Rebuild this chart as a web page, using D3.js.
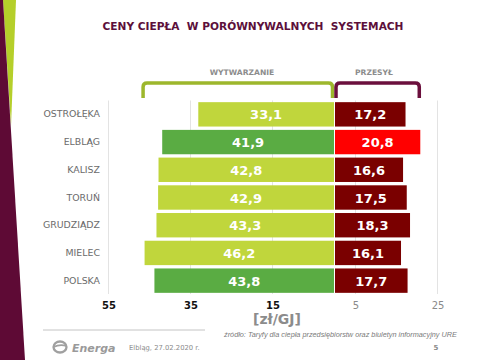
<!DOCTYPE html>
<html><head><meta charset="utf-8">
<script src="https://cdn.jsdelivr.net/npm/d3@7"></script>
<style>
html,body{margin:0;padding:0;background:#fff;}
svg{display:block;font-family:"DejaVu Sans",Verdana,sans-serif;}
</style></head>
<body>
<script>
const categories = ["OSTROŁĘKA","ELBLĄG","KALISZ","TORUŃ","GRUDZIĄDZ","MIELEC","POLSKA"];
const wytwarzanie = [33.1,41.9,42.8,42.9,43.3,46.2,43.8];
const przesyl = [17.2,20.8,16.6,17.5,18.3,16.1,17.7];
const highlight = ["ELBLĄG","POLSKA"];
const leftTicks = [55,35,15];
const rightTicks = [5,25];
const fmt = v => d3.format(".1f")(v).replace(".", ",");

const W = 480, H = 360;
const svg = d3.select("body").append("svg").attr("width", W).attr("height", H);

// left decoration
svg.append("polygon").attr("points","3,0 16,0 11,126").attr("fill","#b5cf2a");
svg.append("polygon").attr("points","0,0 3,0 25,360 0,360").attr("fill","#5e0a35");

// title
svg.append("text").attr("x",253).attr("y",30).attr("text-anchor","middle")
  .attr("font-size",10.6).attr("font-weight","bold").attr("fill","#5c0f3b")
  .attr("xml:space","preserve")
  .text("CENY CIEPŁA  W PORÓWNYWALNYCH  SYSTEMACH");

const xL = d3.scaleLinear().domain([0,55]).range([334,108.5]);
const xR = d3.scaleLinear().domain([0,25]).range([335,437.5]);
const y = d3.scaleBand().domain(categories).range([100.5,294.5]).paddingInner(0.12).paddingOuter(0.06);

// brackets
function bracket(x0,x1,color){
  const t=83, b=98, r=4;
  svg.append("path").attr("d",`M${x0},${b} V${t+r} Q${x0},${t} ${x0+r},${t} H${x1-r} Q${x1},${t} ${x1},${t+r} V${b}`)
    .attr("fill","none").attr("stroke",color).attr("stroke-width",3.5);
}
bracket(xL(46.2)-1.5, xL(0)-1.5, "#9db72c");
bracket(xR(0)+1, xR(20.8)-1, "#6b0f3d");
svg.append("text").attr("x",242).attr("y",75).attr("text-anchor","middle")
  .attr("font-size",7.6).attr("font-weight","bold").attr("fill","#8c8c8c").text("WYTWARZANIE");
svg.append("text").attr("x",374).attr("y",75).attr("text-anchor","middle")
  .attr("font-size",7.6).attr("font-weight","bold").attr("fill","#8c8c8c").text("PRZESYŁ");

// gridlines
const grid = svg.append("g");
leftTicks.forEach(t => grid.append("line").attr("x1",xL(t)).attr("x2",xL(t)).attr("y1",100.5).attr("y2",294).attr("stroke","#e3e3e3"));
rightTicks.forEach(t => grid.append("line").attr("x1",xR(t)).attr("x2",xR(t)).attr("y1",100.5).attr("y2",294).attr("stroke","#e3e3e3"));

// bars
const rows = categories.map((c,i)=>({c, w:wytwarzanie[i], p:przesyl[i]}));
svg.append("g").selectAll("rect").data(rows).join("rect")
  .attr("x", d=>xL(d.w)).attr("width", d=>xL(0)-xL(d.w))
  .attr("y", d=>y(d.c)).attr("height", y.bandwidth())
  .attr("fill", d=>highlight.includes(d.c) ? "#5aac43" : "#c0d63c");
svg.append("g").selectAll("rect").data(rows).join("rect")
  .attr("x", xR(0)).attr("width", d=>xR(d.p)-xR(0))
  .attr("y", d=>y(d.c)).attr("height", y.bandwidth())
  .attr("fill", d=>d.c==="ELBLĄG" ? "#ff0000" : "#7a0000");

// value labels
svg.append("g").selectAll("text").data(rows).join("text")
  .attr("x", d=>(xL(d.w)+xL(0))/2).attr("y", d=>y(d.c)+y.bandwidth()/2+5)
  .attr("text-anchor","middle").attr("font-size",13).attr("font-weight","bold").attr("fill","#fff")
  .text(d=>fmt(d.w));
svg.append("g").selectAll("text").data(rows).join("text")
  .attr("x", d=>(xR(d.p)+xR(0))/2).attr("y", d=>y(d.c)+y.bandwidth()/2+5)
  .attr("text-anchor","middle").attr("font-size",13).attr("font-weight","bold").attr("fill","#fff")
  .text(d=>fmt(d.p));

// category axis
const ay = svg.append("g").attr("transform","translate(101,0)")
  .call(d3.axisLeft(y).tickSize(0).tickPadding(1));
ay.select(".domain").remove();
ay.selectAll("text").attr("font-size",9.4).attr("fill","#6b6b6b").attr("font-family","DejaVu Sans");

// value axes
const axL = svg.append("g").attr("transform","translate(0,294)")
  .call(d3.axisBottom(xL).tickValues(leftTicks).tickSize(0).tickPadding(8));
axL.select(".domain").remove();
axL.selectAll("text").attr("font-size",10).attr("font-weight","bold").attr("fill","#111").attr("font-family","DejaVu Sans");
const axR = svg.append("g").attr("transform","translate(0,294)")
  .call(d3.axisBottom(xR).tickValues(rightTicks).tickSize(0).tickPadding(8));
axR.select(".domain").remove();
axR.selectAll("text").attr("font-size",10).attr("fill","#8a8a8a").attr("font-family","DejaVu Sans");

svg.append("text").attr("x",277).attr("y",324).attr("text-anchor","middle")
  .attr("font-size",14).attr("font-weight","bold").attr("fill","#8c8c8c").text("[zł/GJ]");

// footer
svg.append("line").attr("x1",43).attr("x2",205).attr("y1",330).attr("y2",330).attr("stroke","#c4c4c4");
svg.append("text").attr("x",224).attr("y",337).attr("font-size",7.3).attr("font-style","italic")
  .attr("fill","#7a7a7a").attr("font-family","Liberation Sans")
  .text("źródło: Taryfy dla ciepła przedsiębiorstw oraz biuletyn informacyjny URE");
// logo
const lg = svg.append("g").attr("transform","translate(60,347)");
lg.append("ellipse").attr("rx",6.5).attr("ry",5.5).attr("fill","none").attr("stroke","#a0a0a0").attr("stroke-width",2.3);
lg.append("path").attr("d","M-6.5,0 Q0,-3 6.5,-1").attr("fill","none").attr("stroke","#a0a0a0").attr("stroke-width",1.8);
svg.append("text").attr("x",72).attr("y",351.5).attr("font-size",11).attr("font-weight","bold").attr("font-style","italic")
  .attr("fill","#9a9a9a").attr("font-family","DejaVu Sans").text("Energa");
svg.append("text").attr("x",129).attr("y",350).attr("font-size",6.8).attr("fill","#8a8a8a").text("Elbląg, 27.02.2020 r.");
svg.append("text").attr("x",436).attr("y",350).attr("text-anchor","middle").attr("font-size",7).attr("font-weight","bold").attr("fill","#8a8a8a").text("5");
</script>
</body></html>
